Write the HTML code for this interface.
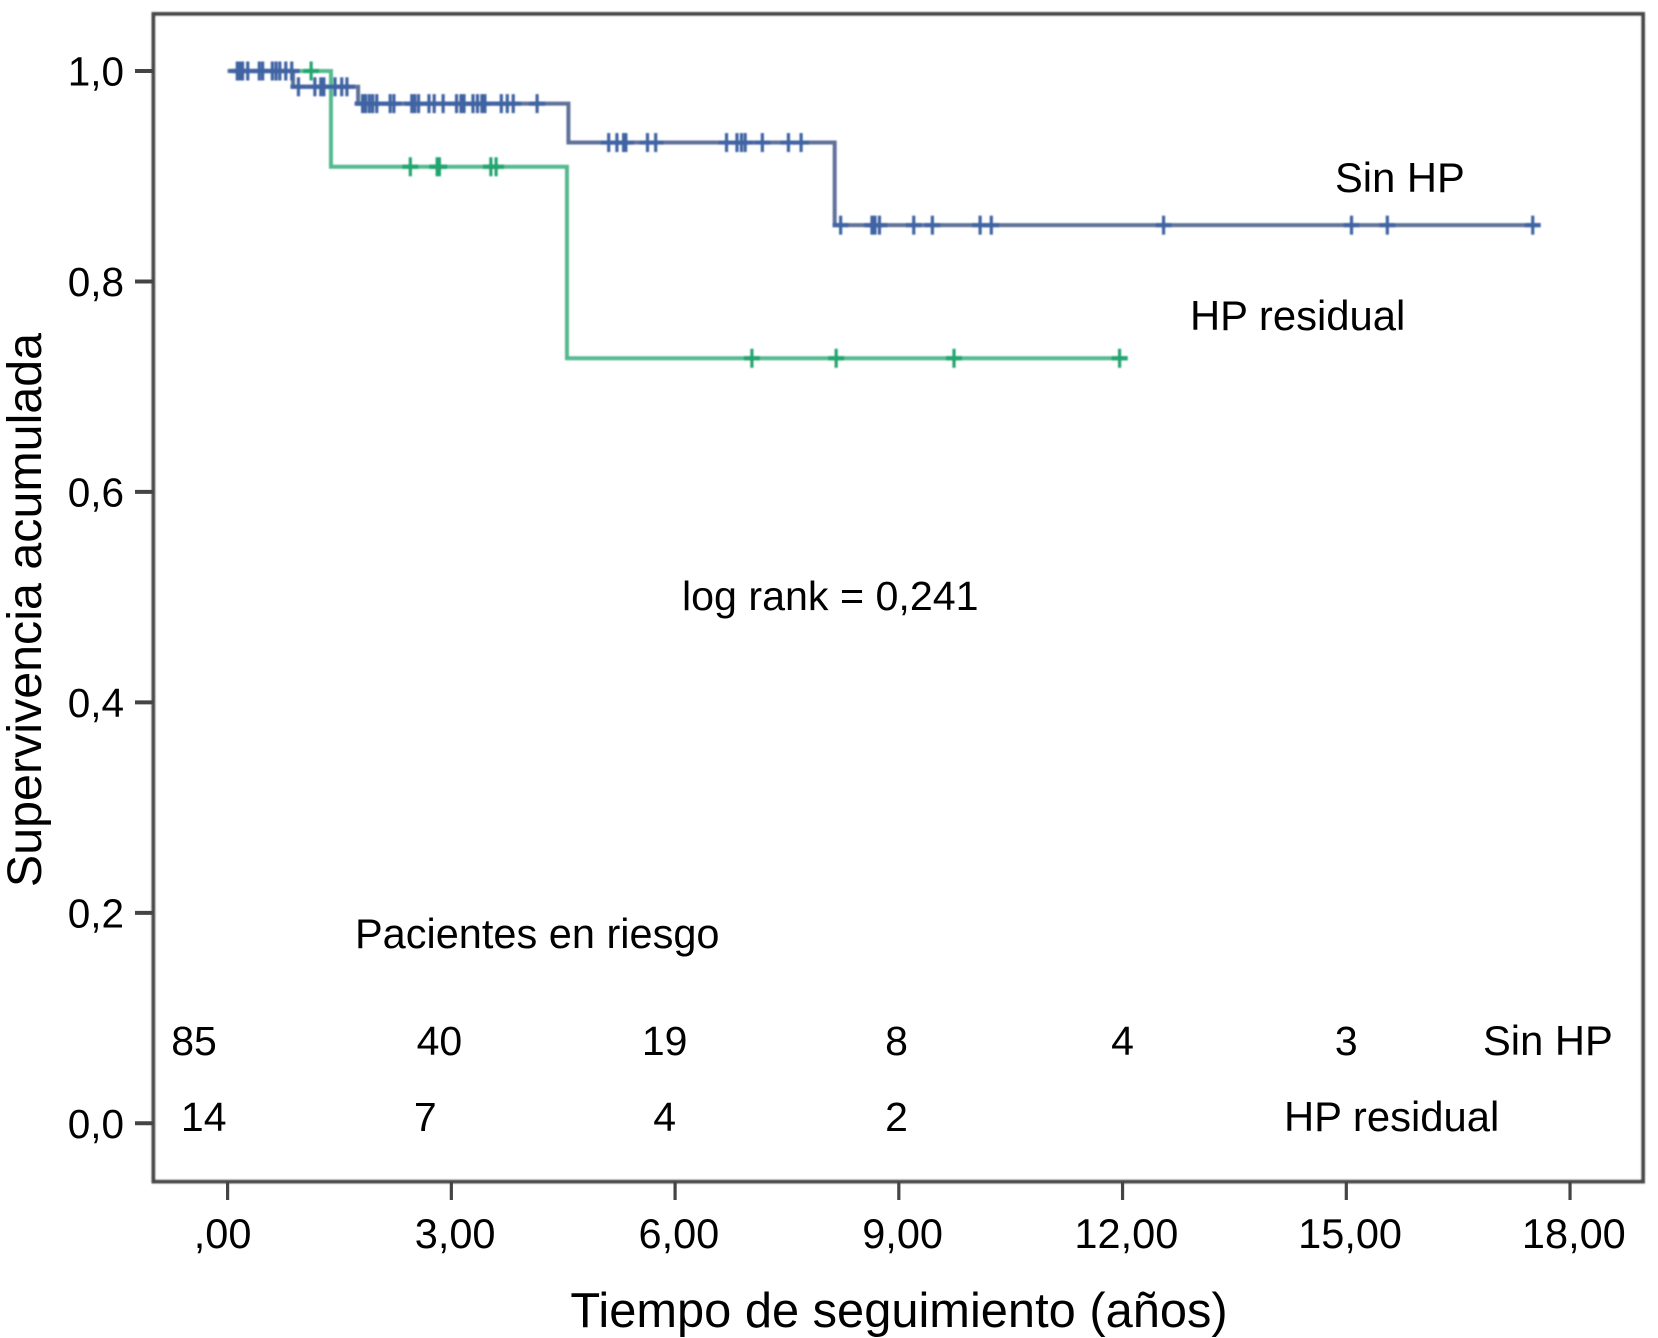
<!DOCTYPE html>
<html lang="es">
<head>
<meta charset="utf-8">
<title>Supervivencia acumulada</title>
<style>
html,body{margin:0;padding:0;background:#fff;width:1658px;height:1338px;overflow:hidden}
svg{display:block}
text{font-family:"Liberation Sans",Arial,sans-serif;fill:#000}
</style>
</head>
<body>
<svg id="chart" xmlns="http://www.w3.org/2000/svg" width="1658" height="1338" viewBox="0 0 1658 1338">
<defs><filter id="soft" x="-5%" y="-5%" width="110%" height="110%"><feGaussianBlur stdDeviation="0.7"/></filter></defs>
<rect width="1658" height="1338" fill="#fff"/>
<rect x="153.5" y="14" width="1489.5" height="1167.5" fill="#fff" stroke="#484848" stroke-width="4" filter="url(#soft)"/>
<g id="axes"></g>
<g id="marks" filter="url(#soft)"></g>
<text transform="translate(41,610) rotate(-90)" text-anchor="middle" font-size="48.4">Supervivencia acumulada</text>
<text x="899" y="1327" text-anchor="middle" font-size="48.8">Tiempo de seguimiento (años)</text>
<text x="1335" y="192" font-size="41.7">Sin HP</text>
<text x="1190" y="330" font-size="41.8">HP residual</text>
<text x="682" y="610" font-size="41.2">log rank = 0,241</text>
<text x="355" y="948" font-size="41.5">Pacientes en riesgo</text>
<g id="risk"></g>
<text x="1483" y="1055" font-size="41.7">Sin HP</text>
<text x="1284" y="1131" font-size="41.8">HP residual</text>
</svg>
<script>
// Axis ticks
const xTickValues = [0, 3, 6, 9, 12, 15, 18];
const xTickLabels = [",00", "3,00", "6,00", "9,00", "12,00", "15,00", "18,00"];
const yTickValues = [0, 0.2, 0.4, 0.6, 0.8, 1.0];
const yTickLabels = ["0,0", "0,2", "0,4", "0,6", "0,8", "1,0"];

// Sin HP series (blue)
const sinHpStepTimes = [0, 0.877, 1.75, 4.57, 8.14];
const sinHpStepSurvival = [1.0, 0.985, 0.969, 0.932, 0.8535];
const sinHpEndTime = 17.6;
const sinHpCensored = [0.13,0.166,0.20,0.27,0.425,0.47,0.60,0.65,0.70,0.78,0.86,
  0.95,1.17,1.25,1.29,1.44,1.53,1.60,
  1.81,1.85,1.90,1.945,2.0,2.18,2.23,2.47,2.51,2.56,2.70,2.77,2.89,3.07,3.13,3.17,3.29,3.35,3.41,3.45,3.67,3.75,3.83,4.15,
  5.11,5.22,5.31,5.34,5.63,5.74,6.69,6.83,6.89,6.94,7.17,7.52,7.69,
  8.22,8.64,8.68,8.74,9.20,9.45,10.09,10.24,12.55,15.07,15.55,17.5];

// HP residual series (green)
const hpResidualStepTimes = [0, 1.386, 4.55];
const hpResidualStepSurvival = [1.0, 0.909, 0.727];
const hpResidualEndTime = 12.07;
const hpResidualCensored = [1.12,2.45,2.81,2.84,3.53,3.60,7.03,8.16,9.74,11.96];

// Patients at risk
const riskSinHp = ["85", "40", "19", "8", "4", "3"];
const riskSinHpTimes = [-0.45, 2.84, 5.86, 8.97, 12.0, 15.0];
const riskHpResidual = ["14", "7", "4", "2"];
const riskHpResidualTimes = [-0.32, 2.65, 5.86, 8.97];

const SVG_NS = "http://www.w3.org/2000/svg";
function xScale(t){ return 227.6 + t * 74.58; }
function yScale(s){ return 1123.3 - s * 1052.3; }
function make(tag, parent, attrs){
  const el = document.createElementNS(SVG_NS, tag);
  for (const k in attrs) el.setAttribute(k, attrs[k]);
  parent.appendChild(el);
  return el;
}
const axes = document.getElementById("axes");
const marks = document.getElementById("marks");
const risk = document.getElementById("risk");

xTickValues.forEach(function(v, i){
  const t = make("line", axes, {x1:xScale(v), x2:xScale(v), y1:1182, y2:1200, stroke:"#444", "stroke-width":3.2});
  
  
  const l = make("text", axes, {x:xScale(v) + (i === 0 ? -5 : 3.8), y:1248, "text-anchor":"middle", "font-size":41.5});
  
  
  l.textContent = xTickLabels[i];
});
yTickValues.forEach(function(v, i){
  const t = make("line", axes, {x1:135, x2:153, y1:yScale(v), y2:yScale(v), stroke:"#444", "stroke-width":4});
  
  
  const l = make("text", axes, {x:124, y:yScale(v) + 14.5, "text-anchor":"end", "font-size":40.5});
  
  
  l.textContent = yTickLabels[i];
});

function survivalAt(t, times, surv){
  let s = surv[0];
  for (let i = 0; i < times.length; i++) if (t >= times[i]) s = surv[i];
  return s;
}
function stepPath(times, surv, end){
  let d = "M" + xScale(times[0]) + " " + yScale(surv[0]);
  for (let i = 1; i < times.length; i++){
    d += "H" + xScale(times[i]) + "V" + yScale(surv[i]);
  }
  return d + "H" + xScale(end);
}
function drawCensor(times, surv, censored, color){
  censored.forEach(function(t){
    const x = xScale(t);
    const y = yScale(survivalAt(t, times, surv));
    const c = make("line", marks, {x1:x, x2:x, y1:y - 9.5, y2:y + 9.5, stroke:color, "stroke-width":3.2});
    
    
    const a = make("line", marks, {x1:x - 8, x2:x + 8, y1:y, y2:y, stroke:color, "stroke-width":4.2});
    
    
  });
}

const greenPath = make("path", marks, {d:stepPath(hpResidualStepTimes, hpResidualStepSurvival, hpResidualEndTime), fill:"none", stroke:"#55b98f", "stroke-width":4});


drawCensor(hpResidualStepTimes, hpResidualStepSurvival, hpResidualCensored, "#24a56f");
const bluePath = make("path", marks, {d:stepPath(sinHpStepTimes, sinHpStepSurvival, sinHpEndTime), fill:"none", stroke:"#5f7199", "stroke-width":4});


drawCensor(sinHpStepTimes, sinHpStepSurvival, sinHpCensored, "#3f63a3");

riskSinHp.forEach(function(v, i){
  const t = make("text", risk, {x:xScale(riskSinHpTimes[i]), y:1055, "text-anchor":"middle", "font-size":41});
  
  
  t.textContent = v;
});
riskHpResidual.forEach(function(v, i){
  const t = make("text", risk, {x:xScale(riskHpResidualTimes[i]), y:1131, "text-anchor":"middle", "font-size":41});
  
  
  t.textContent = v;
});
</script>
</body>
</html>
